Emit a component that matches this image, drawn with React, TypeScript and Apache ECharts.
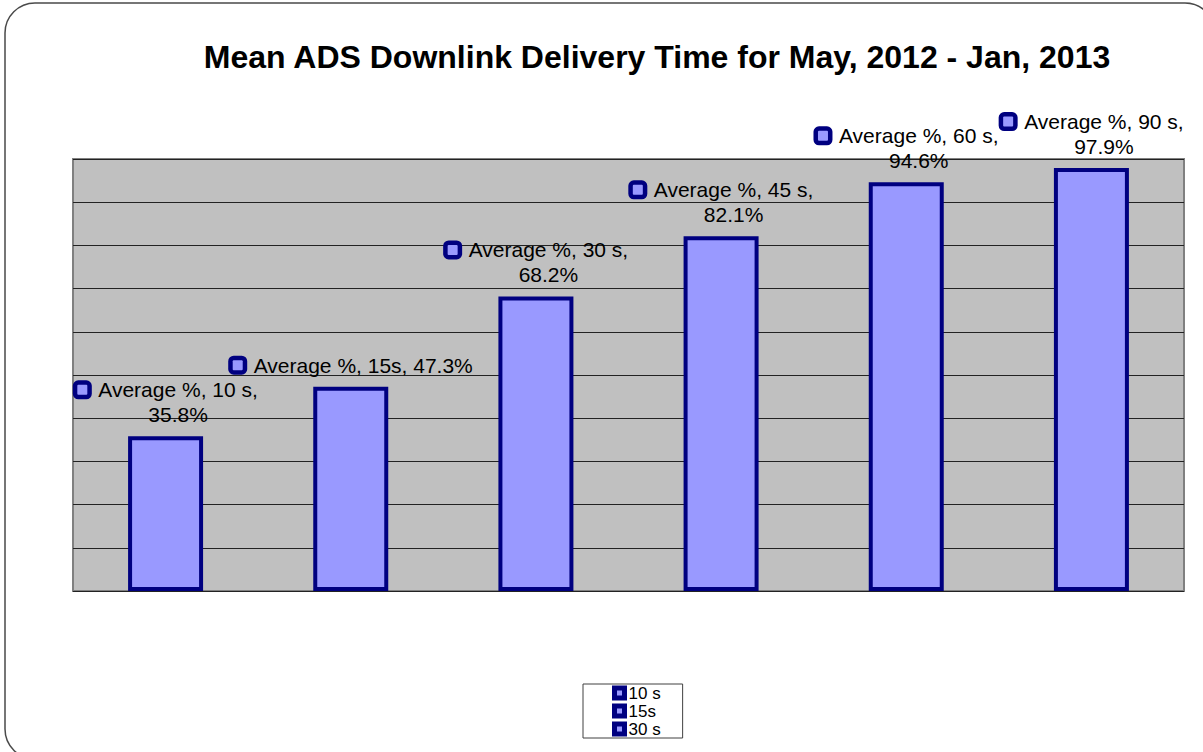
import React, { useEffect, useRef } from "react";
import * as echarts from "echarts";

const categories = ["10 s", "15s", "30 s", "45 s", "60 s", "90 s"];
const values = [35.8, 47.3, 68.2, 82.1, 94.6, 97.9];
const legendItems = ["10 s", "15s", "30 s"];
const singleLineLabel = [false, true, false, false, false, false];
const titleText = "Mean ADS Downlink Delivery Time for May, 2012 - Jan, 2013";

const FONT = "'Liberation Sans', Arial, Helvetica, sans-serif";

export default function App() {
  const ref = useRef<HTMLDivElement>(null);
  useEffect(() => {
    if (!ref.current) return;
    const chart = echarts.init(ref.current, null, { renderer: "svg" });
    const option: any = {
      animation: false,
      backgroundColor: "#ffffff",
      textStyle: { fontFamily: FONT },
      graphic: [
        {
          type: "rect",
          z: -10,
          silent: true,
          shape: { x: 5, y: 3, width: 1210, height: 756, r: 30 },
          style: { fill: "none", stroke: "#4a4a4a", lineWidth: 1.5 },
        },
        {
          type: "text",
          x: 657,
          y: 57,
          style: {
            text: titleText,
            fontFamily: FONT,
            fontSize: 32,
            fontWeight: "bold",
            fill: "#000000",
            align: "center",
            verticalAlign: "middle",
          },
        },
      ],
      grid: {
        left: 73,
        top: 159,
        right: 19,
        bottom: 161,
        show: true,
        backgroundColor: "#C0C0C0",
        borderColor: "#808080",
        borderWidth: 2,
        containLabel: false,
      },
      legend: {
        data: legendItems,
        orient: "vertical",
        left: 583,
        top: 684,
        padding: [0, 22, 0, 29],
        itemGap: 0,
        itemWidth: 10,
        itemHeight: 10,
        icon: "rect",
        backgroundColor: "#ffffff",
        borderColor: "#404040",
        borderWidth: 1,
        borderRadius: 0,
        itemStyle: { color: "#9999FF", borderColor: "#000080", borderWidth: 5 },
        textStyle: { fontFamily: FONT, fontSize: 17, color: "#000", lineHeight: 18, padding: [0, 0, 0, -1] },
        selectedMode: false,
      },
      xAxis: {
        type: "category",
        data: categories,
        axisLine: { show: false },
        axisTick: { show: false },
        axisLabel: { show: false },
        splitLine: { show: false },
      },
      yAxis: {
        type: "value",
        min: 0,
        max: 100,
        interval: 10,
        axisLine: { show: false },
        axisTick: { show: false },
        axisLabel: { show: false },
        splitLine: { show: true, lineStyle: { color: "#222222", width: 1 } },
      },
      series: [
        {
          name: "Average %",
          type: "bar",
          data: values,
          barWidth: 75,
          itemStyle: { color: "#9999FF", borderColor: "#000080", borderWidth: 4 },
          label: {
            show: true,
            position: "top",
            distance: 9,
            offset: [2, 0],
            formatter: (p: any) => {
              const cat = categories[p.dataIndex];
              const v = values[p.dataIndex].toFixed(1) + "%";
              if (singleLineLabel[p.dataIndex]) {
                return "{m|}{g|}{t|Average %, " + cat + ", " + v + "}";
              }
              return "{m|}{g|}{t|Average %, " + cat + ",}\n{p|}{t|" + v + "}";
            },
            rich: {
              m: {
                width: 10,
                height: 10,
                backgroundColor: "#9999FF",
                borderColor: "#000080",
                borderWidth: 4.5,
                borderRadius: 1,
              },
              g: { width: 11 },
              p: { width: 21 },
              t: { fontFamily: FONT, fontSize: 21, lineHeight: 25, color: "#000000" },
            },
          },
        },
        ...legendItems.map((n) => ({ name: n, type: "line", data: [] as number[] })),
      ],
    };
    chart.setOption(option);
    return () => chart.dispose();
  }, []);
  return (
    <div
      ref={ref}
      style={{ position: "fixed", left: 0, top: 0, width: 1203, height: 752 }}
    />
  );
}
